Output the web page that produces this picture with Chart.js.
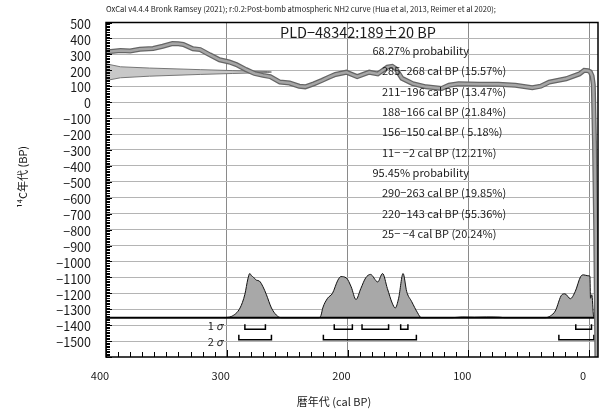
<!DOCTYPE html>
<html lang="ja">
<head>
<meta charset="utf-8">
<script src="https://cdn.jsdelivr.net/npm/chart.js@4.4.1/dist/chart.umd.min.js"></script>
<style>
  html, body { margin: 0; padding: 0; background: #fff; }
  #wrap { width: 605px; height: 414px; position: relative; }
</style>
</head>
<body>
<div id="wrap"><canvas id="grafico"></canvas></div>
<script>
// --- dados ---
const xTicks = [400, 300, 200, 100, 0];
const yTicks = [500, 400, 300, 200, 100, 0, -100, -200, -300, -400, -500, -600, -700,
  -800, -900, -1000, -1100, -1200, -1300, -1400, -1500];

// curva de calibração (cal BP -> idade 14C BP)
const curveCalBP = [400, 396, 388, 380, 372, 361, 353, 345, 340, 336, 328, 322, 314, 306, 298, 292,
  284, 277, 270, 264, 256, 248, 240, 235, 228, 221, 215, 210, 201, 192, 182, 175, 167, 163, 160,
  155, 146, 135, 122, 116, 108, 91, 75, 61, 47, 40, 33, 19, 8, 4, 1, -1, -2.5, -3.5, -4.5, -5.5, -6.5];
const curveAge = [314, 318, 324, 321, 332, 337, 351, 368, 366, 362, 335, 330, 297, 266, 252, 236,
  204, 180, 168, 160, 126, 120, 100, 96, 115, 137, 158, 174, 188, 160, 188, 177, 220, 225, 210,
  150, 116, 96, 86, 106, 116, 112, 112, 106, 90, 100, 126, 147, 177, 200, 198, 190, 165, 110, -250, -800, -1600];

// medida 189±20 BP (faixa cinza à esquerda)
const measCalBP = [400, 397, 388, 364, 322, 295, 266, 263];
const measUpper = [242, 236, 222, 214, 204, 198, 192, 189];
const measLower = [136, 140, 153, 163, 174, 180, 186, 189];

// distribuição de probabilidade calibrada (relativa ao pico)
const distCalBP = [302, 296, 289, 285, 282.5, 281, 279.5, 278, 275.5, 273, 270, 267.3, 263, 259, 255,
  224, 222, 220.5, 216.5, 212.5, 208, 205.5, 201, 197, 193, 189, 185, 181, 175, 171, 167, 163, 160.5,
  157.7, 154, 151, 147, 142, 139, 113, 105, 95, 85, 74, 70,
  36, 32, 28, 22.5, 20, 15.5, 11.5, 7, 4.5, 1, -0.7, -1.2, -2.3, -3.7, -4.5];
const distProb = [0, 0.03, 0.22, 0.53, 0.88, 1.0, 0.95, 0.92, 0.85, 0.83, 0.70, 0.53, 0.22, 0.06, 0,
  0, 0.05, 0.22, 0.44, 0.55, 0.85, 0.93, 0.90, 0.70, 0.41, 0.66, 0.90, 0.98, 0.81, 1.0, 0.66, 0.33, 0.22,
  0.44, 1.0, 0.59, 0.37, 0.11, 0, 0, 0.015, 0.01, 0.015, 0.01, 0,
  0, 0.04, 0.15, 0.52, 0.54, 0.43, 0.59, 0.93, 0.97, 0.95, 0.94, 0.44, 0.52, 0.04, 0];

// intervalos 1σ e 2σ
const sigma1From = [285, 211, 188, 156, 11];
const sigma1To = [268, 196, 166, 150, -2];
const sigma1Pct = [15.57, 13.47, 21.84, 5.18, 12.21];
const sigma2From = [290, 220, 25];
const sigma2To = [263, 143, -4];
const sigma2Pct = [19.85, 55.36, 20.24];

const sampleLabel = 'PLD−48342:189±20 BP';
const headerText = 'OxCal v4.4.4 Bronk Ramsey (2021); r:0.2:Post-bomb atmospheric NH2 curve (Hua et al, 2013, Reimer et al 2020);';

// --- posições / estilos ---
const FONT = '"Noto Sans CJK JP", "Noto Sans", sans-serif';
const Y_MIN = -1600, Y_MAX = 500;
const X_MIN = -7.4, X_MAX = 400;
const BASE = -1353;      // linha base da distribuição
const PEAK = 277;        // altura do pico em unidades do eixo
const S1_LINE = -1425, S1_END = -1394;
const S2_LINE = -1492, S2_END = -1460;

function pts(xs, ys) { return xs.map((v, i) => ({ x: v, y: ys[i] })); }

function brackets(from, to, lineY, endY) {
  const out = [];
  from.forEach((a, i) => {
    out.push({ x: a, y: endY }, { x: a, y: lineY }, { x: to[i], y: lineY }, { x: to[i], y: endY });
    out.push({ x: to[i], y: null });
  });
  return out;
}

function fmtRange(a, b, p) {
  const to = b < 0 ? ' −' + (-b) : String(b);
  const pct = p < 10 ? ' ' + p.toFixed(2) : p.toFixed(2);
  return a + '−' + to + ' cal BP (' + pct + '%)';
}

const textLines = [{ t: '68.27% probability', head: true }]
  .concat(sigma1From.map((a, i) => ({ t: fmtRange(a, sigma1To[i], sigma1Pct[i]) })))
  .concat([{ t: '95.45% probability', head: true }])
  .concat(sigma2From.map((a, i) => ({ t: fmtRange(a, sigma2To[i], sigma2Pct[i]) })));

const extras = {
  id: 'extras',
  afterDatasetsDraw(chart) {
    const { ctx, chartArea: a, scales: { x, y } } = chart;
    ctx.save();
    // marcas menores
    ctx.strokeStyle = '#000';
    ctx.lineWidth = 1;
    ctx.beginPath();
    for (let v = 400; v >= X_MIN; v -= 10) {
      const px = Math.round(x.getPixelForValue(v)) + 0.5;
      const len = v % 100 === 0 ? 7 : 5;
      ctx.moveTo(px, a.bottom); ctx.lineTo(px, a.bottom - len);
    }
    for (let v = Y_MIN; v <= Y_MAX; v += 10) {
      const py = Math.round(y.getPixelForValue(v)) + 0.5;
      const len = v % 100 === 0 ? 6 : 4;
      ctx.moveTo(a.left, py); ctx.lineTo(a.left + len, py);
    }
    ctx.stroke();
    // moldura
    ctx.lineWidth = 1.5;
    ctx.strokeRect(a.left, a.top, a.right - a.left, a.bottom - a.top);

    // textos
    ctx.fillStyle = '#1a1a1a';
    ctx.textBaseline = 'middle';
    ctx.textAlign = 'left';
    ctx.font = '7.6px ' + FONT;
    ctx.fillText(headerText, a.left, 9.5);

    ctx.font = '14.5px ' + FONT;
    ctx.fillText(sampleLabel, 280, 32);

    ctx.font = '11px ' + FONT;
    textLines.forEach((l, i) => {
      ctx.fillText(l.t, l.head ? 372.5 : 382, 51 + 20.3 * i);
    });

    // rótulos 1σ / 2σ
    ctx.textAlign = 'right';
    const sx = x.getPixelForValue(300) - 4;
    ctx.font = '11px ' + FONT;
    ctx.fillText('1', sx - 9, 326);
    ctx.fillText('2', sx - 9, 342);
    ctx.font = 'italic 11px ' + FONT;
    ctx.fillText('σ', sx, 326);
    ctx.fillText('σ', sx, 342);

    // títulos dos eixos
    ctx.textAlign = 'center';
    ctx.font = '11px ' + FONT;
    ctx.fillText('暦年代 (cal BP)', 334, 402);
    ctx.translate(23, 177);
    ctx.rotate(-Math.PI / 2);
    ctx.fillText('¹⁴C年代 (BP)', 0, 0);
    ctx.restore();
  }
};

const canvasElement = document.getElementById('grafico');
const ctx = canvasElement.getContext('2d');

new Chart(ctx, {
  type: 'line',
  data: {
    datasets: [
      { data: pts(curveCalBP, curveAge), borderColor: '#a6a6a6', borderWidth: 2.5, order: 1 },
      { data: pts(curveCalBP, curveAge), borderColor: '#666', borderWidth: 5, order: 2 },
      { data: pts(measCalBP, measUpper), borderColor: '#777', borderWidth: 1, order: 4 },
      { data: pts(measCalBP, measLower), borderColor: '#777', borderWidth: 1, order: 4,
        fill: '-1', backgroundColor: '#c8c8c8' },
      { data: pts(distCalBP, distProb), yAxisID: 'yProb', borderColor: '#111', borderWidth: 1,
        fill: 'origin', backgroundColor: '#a8a8a8', cubicInterpolationMode: 'monotone', order: 6 },
      { data: [{ x: X_MAX, y: 0 }, { x: X_MIN, y: 0 }], yAxisID: 'yProb', borderColor: '#000',
        borderWidth: 2, order: 5 },
      { data: brackets(sigma1From, sigma1To, S1_LINE, S1_END), borderColor: '#000', borderWidth: 1.5, order: 3 },
      { data: brackets(sigma2From, sigma2To, S2_LINE, S2_END), borderColor: '#000', borderWidth: 1.5, order: 3 }
    ]
  },
  options: {
    responsive: true,
    maintainAspectRatio: false,
    animation: false,
    layout: { padding: { top: 14, right: 7, left: 0, bottom: 0 } },
    elements: { point: { radius: 0 }, line: { tension: 0, fill: false } },
    plugins: { legend: { display: false }, tooltip: { enabled: false } },
    scales: {
      x: {
        type: 'linear', reverse: true, min: X_MIN, max: X_MAX,
        afterBuildTicks: s => { s.ticks = xTicks.map(v => ({ value: v })); },
        afterFit: s => { s.height = 57; },
        grid: { color: '#8a8a8a', drawTicks: false },
        border: { display: false },
        ticks: { padding: 12, labelOffset: -6, color: '#1a1a1a', font: { family: FONT, size: 11 },
          maxRotation: 0, autoSkip: false }
      },
      y: {
        type: 'linear', min: Y_MIN, max: Y_MAX,
        afterBuildTicks: s => { s.ticks = yTicks.map(v => ({ value: v })); },
        afterFit: s => { s.width = 106; },
        grid: { color: '#b4b4b4', drawTicks: false },
        border: { display: false },
        ticks: { padding: 15, labelOffset: 1.5, color: '#1a1a1a', font: { family: FONT, size: 12.5 },
          autoSkip: false, callback: v => v < 0 ? '−' + (-v) : String(v) }
      },
      yProb: {
        type: 'linear', display: false,
        min: (Y_MIN - BASE) / PEAK, max: (Y_MAX - BASE) / PEAK
      }
    }
  },
  plugins: [extras]
});
</script>
</body>
</html>
